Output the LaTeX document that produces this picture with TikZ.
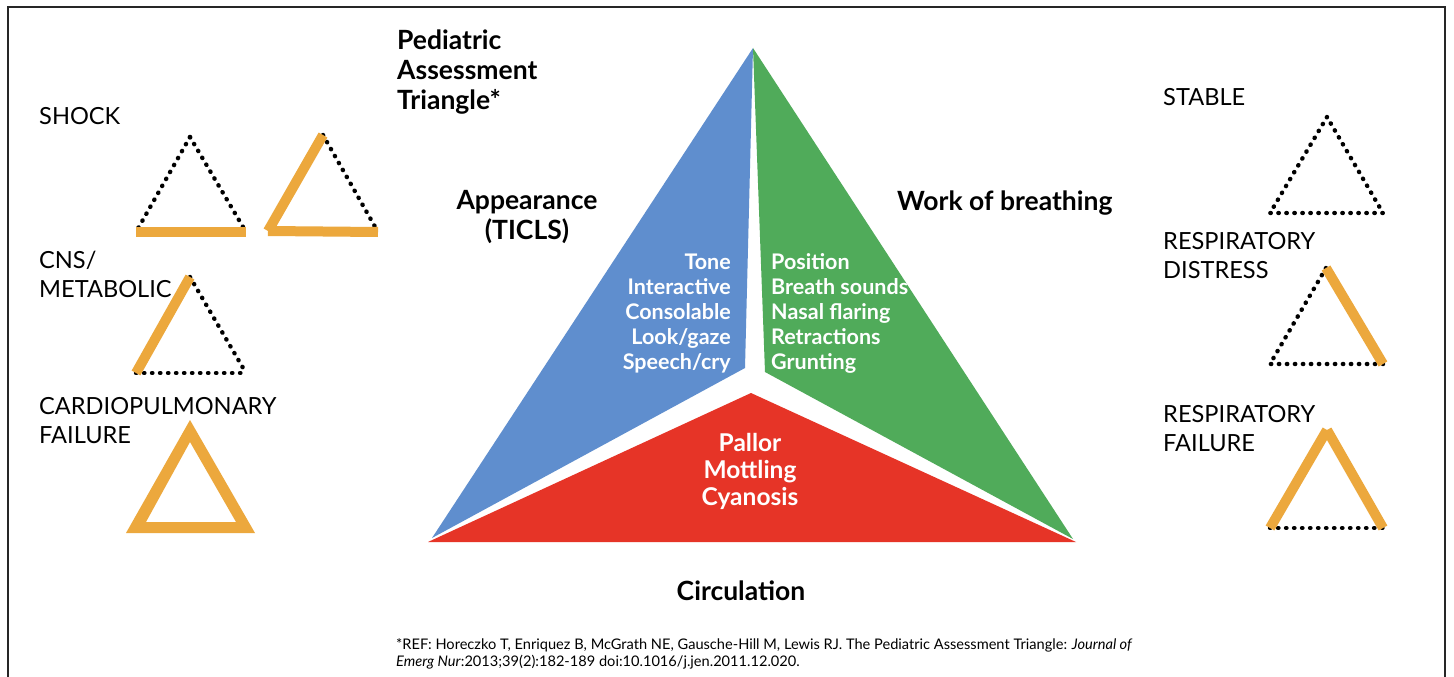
\documentclass[tikz,border=0pt]{standalone}
\usepackage{fontspec}
\setmainfont{Lato}
\definecolor{triblue}{HTML}{5F8ECE}
\definecolor{trigreen}{HTML}{50AB5A}
\definecolor{trired}{HTML}{E63427}
\definecolor{triorange}{HTML}{ECA83D}
\begin{document}
\begin{tikzpicture}[x=1pt,y=-1pt,
  lab/.style={font=\fontsize{23.6}{28.5}\selectfont, inner sep=0, align=left, anchor=base west},
  ttl/.style={font=\bfseries\fontsize{26.5}{30}\selectfont, inner sep=0},
  item/.style={font=\bfseries\fontsize{21.5}{25}\selectfont, text=white, inner sep=0},
  dotl/.style={line width=4.4pt, dash pattern=on 0.4pt off 7.6pt, line cap=round, draw=black},
  orl/.style={line width=10pt, draw=triorange, line cap=butt},
]
\useasboundingbox (0,0) rectangle (1454,677);
\fill[white] (0,0) rectangle (1454,677);
% frame
\draw[line width=2.5pt, black!85] (8,700) -- (8,7) -- (1445,7) -- (1445,700);

% main triangle
\coordinate (A) at (753,48);
\coordinate (BL) at (428,542);
\coordinate (BR) at (1076,542);
\coordinate (bc) at (745,368);
\coordinate (gc) at (765,372);
\coordinate (rc) at (751,393);
\fill[triblue] (A) -- (432,538) -- (bc) -- cycle;
\fill[trigreen] (A) -- (1073,539) -- (gc) -- cycle;
\fill[trired] (rc) -- (BR) -- (BL) -- cycle;

% labels main
\node[ttl, align=left, anchor=base west] (title) at (397,110) {Pediatric\\Assessment\\Triangle*};
\node[ttl, align=center, anchor=base] (app) at (527,239) {Appearance\\(TICLS)};
\node[ttl, anchor=base west] (wob) at (897,210) {Work of breathing};
\node[ttl, anchor=base] (circ) at (741,600) {Circulation};

\node[item, align=right, anchor=base east] (ticls) at (731,369) {Tone\\Interactive\\Consolable\\Look/gaze\\Speech/cry};
\node[item, align=left, anchor=base west] (wobitems) at (771,369) {Position\\Breath sounds\\Nasal flaring\\Retractions\\Grunting};
\node[item, font=\bfseries\fontsize{24.5}{27}\selectfont, align=center, anchor=base] (circitems) at (750,505) {Pallor\\Mottling\\Cyanosis};

% footnote
\node[font=\fontsize{14.6}{16.5}\selectfont, align=left, anchor=base west, inner sep=0] (ref) at (396,666)
  {*REF: Horeczko T, Enriquez B, McGrath NE, Gausche-Hill M, Lewis RJ. The Pediatric Assessment Triangle: \textit{Journal of}\\
   \textit{Emerg Nur}:2013;39(2):182-189 doi:10.1016/j.jen.2011.12.020.};

% left labels
\node[lab] (shock) at (39,124) {SHOCK};
\node[lab] (cns) at (39,297) {CNS/\\METABOLIC};
\node[lab] (cpf) at (39,443) {CARDIOPULMONARY\\FAILURE};
% right labels
\node[lab] (stable) at (1163,105) {STABLE};
\node[lab] (rd) at (1163,278) {RESPIRATORY\\DISTRESS};
\node[lab] (rf) at (1163,451) {RESPIRATORY\\FAILURE};

% shock 1
\coordinate (s1a) at (190,137); \coordinate (s1l) at (136,232); \coordinate (s1r) at (246,232);
\draw[dotl] (s1a) -- (s1l);
\draw[dotl] (s1a) -- (s1r);
\draw[orl] (s1l) -- (s1r);
% shock 2
\coordinate (s2a) at (323,135); \coordinate (s2l) at (268,231); \coordinate (s2r) at (378,232);
\draw[dotl] (s2a) -- (s2r);
\draw[orl] (s2l) -- (s2r);
\draw[orl] (s2a) -- (s2l);
% CNS
\coordinate (c1a) at (190,277); \coordinate (c1l) at (136,373); \coordinate (c1r) at (246,373);
\draw[dotl] (c1a) -- (c1r);
\draw[dotl] (c1l) -- (c1r);
\draw[orl] (c1a) -- (c1l);
% cardiopulmonary failure
\fill[triorange, even odd rule] (190,420) -- (126,533) -- (255,533) -- cycle
  (190,442) -- (146,522) -- (236,522) -- cycle;
% stable
\coordinate (t1a) at (1327,117); \coordinate (t1l) at (1270,213); \coordinate (t1r) at (1383,213);
\draw[dotl] (t1a) -- (t1l) -- (t1r) -- cycle;
% resp distress
\coordinate (t2a) at (1326,268); \coordinate (t2l) at (1270,364); \coordinate (t2r) at (1383,364);
\draw[dotl] (t2a) -- (t2l) -- (t2r);
\draw[orl] (t2a) -- (t2r);
% resp failure
\coordinate (t3a) at (1327,430); \coordinate (t3l) at (1270,528); \coordinate (t3r) at (1383,528);
\draw[dotl] (t3l) -- (t3r);
\draw[orl] (t3a) -- (t3l);
\draw[orl] (t3a) -- (t3r);
\end{tikzpicture}
\end{document}
